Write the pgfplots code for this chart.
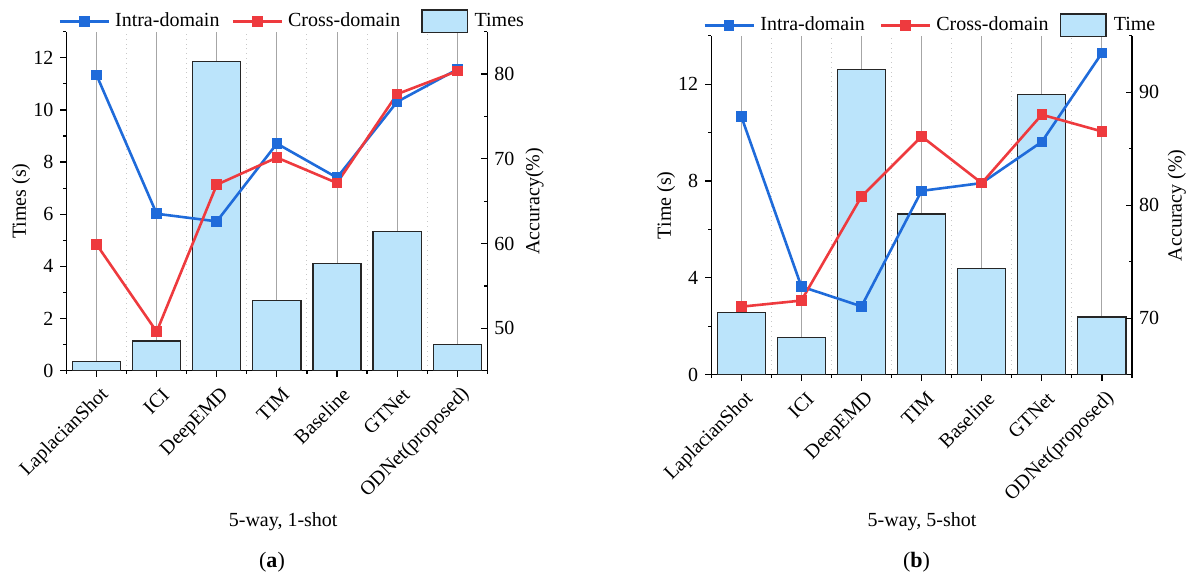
\documentclass[border=0pt]{standalone}
\usepackage{fontspec}
\setmainfont{Liberation Serif}
\usepackage{pgfplots}
\pgfplotsset{compat=1.18}
\definecolor{cblue}{HTML}{1F6BDA}
\definecolor{cred}{HTML}{EE3A3E}
\definecolor{cbar}{HTML}{BBE4FB}
\definecolor{cbord}{HTML}{262626}
\definecolor{cgrid}{HTML}{A6A6A6}
\definecolor{cminor}{HTML}{C8C8C8}

\pgfplotsset{
  common/.style={
    scale only axis, width=210.4pt, height=169.5pt,
    xmin=-0.5, xmax=6.5,
    /pgf/number format/assume math mode=true,
    tick label style={font=\fontsize{10}{12}\selectfont},
    label style={font=\fontsize{10}{12}\selectfont},
    axis line style={line width=0.6pt},
    every tick/.style={black, line width=0.6pt},
    major tick length=3pt, minor tick length=1.5pt,
  },
  barax/.style={common,
    axis x line*=bottom, axis y line*=left,
    tick align=outside,
    xtick={0,...,6}, minor xtick={-0.5,0.5,...,6.5},
    xticklabels={LaplacianShot,ICI,DeepEMD,TIM,Baseline,GTNet,ODNet(proposed)},
    xticklabel style={rotate=45, anchor=east, xshift=1.4pt, yshift=-8.5pt},
    xmajorgrids, xminorgrids,
    major grid style={cgrid, line width=0.5pt},
    minor grid style={cminor, dotted, line width=0.5pt},
    ymin=0,
  },
  lineax/.style={common,
    axis x line=none, axis y line*=right,
    tick align=inside,
    legend columns=3,
    legend image code/.code={\draw[mark repeat=2,mark phase=2,##1] plot coordinates {(0pt,0pt) (12.25pt,0pt) (24.5pt,0pt)};},
    legend style={draw=none, fill=none, inner sep=0pt, outer sep=0pt,
      font=\fontsize{10}{12}\selectfont,
      nodes={inner sep=0pt},
      at={(axis description cs:0,1)}, anchor=west, xshift=-4pt, yshift=5.2pt},
  },
  barleg/.style={legend image code/.code={\draw[fill=cbar,draw=cbord,line width=0.6pt] (0pt,-5.67pt) rectangle (22.8pt,5.67pt);}},
  intra/.style={cblue, line width=1.3pt, mark=square*, mark size=2pt, mark options={solid}},
  cross/.style={cred, line width=1.3pt, mark=square*, mark size=2pt, mark options={solid}},
  bars/.style={ybar, bar width=0.8, fill=cbar, draw=cbord, line width=0.6pt},
}

\begin{document}
\begin{tikzpicture}
\path[use as bounding box] (0pt,0pt) rectangle (595.5pt,-287.5pt);

% ---------------- Panel (a) ----------------
\begin{axis}[barax, at={(33.25pt,-185.35pt)}, anchor=south west,
  ymax=13, ytick={0,2,...,12}, minor ytick={1,3,...,13},
  ylabel={Times (s)},
  ylabel style={at={(axis description cs:0,0.5)}, anchor=center, yshift=22.75pt},
  xlabel={5-way, 1-shot},
  xlabel style={at={(axis description cs:0.515,0)}, anchor=center, yshift=-75.5pt}]
\addplot[bars] coordinates {(0,0.35) (1,1.14) (2,11.86) (3,2.68) (4,4.10) (5,5.35) (6,1.02)};
\end{axis}
\begin{axis}[lineax, at={(33.25pt,-185.35pt)}, anchor=south west,
  ymin=45, ymax=85, ytick={50,60,70,80}, minor ytick={45,55,65,75,85},
  ylabel={Accuracy(\%)},
  ylabel style={at={(axis description cs:1,0.5)}, anchor=center, yshift=-23.65pt},
  legend style={/tikz/column 1/.style={column sep=2.5pt},
                /tikz/column 2/.style={column sep=6pt},
                /tikz/column 3/.style={column sep=2.5pt},
                /tikz/column 4/.style={column sep=10.5pt},
                /tikz/column 5/.style={column sep=3.25pt}}]
\addplot[intra] coordinates {(0,79.88) (1,63.52) (2,62.62) (3,71.80) (4,67.78) (5,76.73) (6,80.55)};
\addplot[cross] coordinates {(0,59.90) (1,49.61) (2,66.95) (3,70.15) (4,67.15) (5,77.64) (6,80.35)};
\addlegendimage{barleg}
\legend{Intra-domain,Cross-domain,Times}
\end{axis}

% ---------------- Panel (b) ----------------
\begin{axis}[barax, at={(355.6pt,-187.35pt)}, anchor=south west,
  ymax=14, ytick={0,4,8,12}, minor ytick={2,6,10,14},
  ylabel={Time (s)},
  ylabel style={at={(axis description cs:0,0.5)}, anchor=center, yshift=22.6pt},
  xlabel={5-way, 5-shot},
  xlabel style={at={(axis description cs:0.501,0)}, anchor=center, yshift=-73.5pt}]
\addplot[bars] coordinates {(0,2.57) (1,1.55) (2,12.60) (3,6.64) (4,4.38) (5,11.56) (6,2.38)};
\end{axis}
\begin{axis}[lineax, at={(355.6pt,-187.35pt)}, anchor=south west,
  ymin=65, ymax=95, ytick={70,80,90}, minor ytick={65,75,85,95},
  ylabel={Accuracy (\%)},
  ylabel style={at={(axis description cs:1,0.5)}, anchor=center, yshift=-22.45pt},
  legend style={/tikz/column 1/.style={column sep=2.8pt},
                /tikz/column 2/.style={column sep=7.5pt},
                /tikz/column 3/.style={column sep=2.5pt},
                /tikz/column 4/.style={column sep=5.6pt},
                /tikz/column 5/.style={column sep=3.6pt}}]
\addplot[intra] coordinates {(0,87.87) (1,72.80) (2,71.05) (3,81.27) (4,81.96) (5,85.61) (6,93.47)};
\addplot[cross] coordinates {(0,71.02) (1,71.56) (2,80.77) (3,86.09) (4,81.96) (5,88.01) (6,86.53)};
\addlegendimage{barleg}
\legend{Intra-domain,Cross-domain,Time}
\end{axis}

\node[font=\fontsize{11}{13}\selectfont] at (136pt,-281pt) {(\textbf{a})};
\node[font=\fontsize{11}{13}\selectfont] at (458.3pt,-280.85pt) {(\textbf{b})};
\end{tikzpicture}
\end{document}
